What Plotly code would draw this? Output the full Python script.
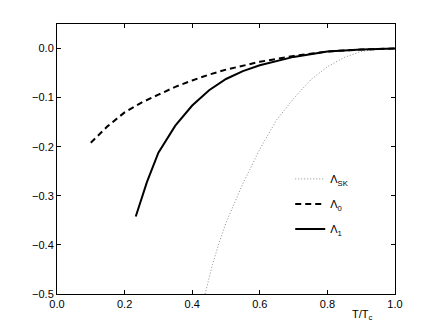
import plotly.graph_objects as go

# Λ_SK (dotted)
t_sk = [0.438, 0.46, 0.48, 0.50, 0.55, 0.60, 0.65, 0.70, 0.75, 0.80, 0.85, 0.90, 0.95, 1.00]
lam_sk = [-0.50, -0.44, -0.395, -0.355, -0.275, -0.205, -0.145, -0.102, -0.064, -0.037, -0.018, -0.006, -0.001, 0.0]

# Λ_0 (dashed)
t_0 = [0.10, 0.15, 0.20, 0.25, 0.30, 0.35, 0.40, 0.45, 0.50, 0.60, 0.70, 0.80, 0.90, 1.00]
lam_0 = [-0.192, -0.158, -0.130, -0.110, -0.094, -0.078, -0.065, -0.053, -0.043, -0.027, -0.015, -0.006, -0.002, 0.0]

# Λ_1 (solid)
t_1 = [0.233, 0.266, 0.30, 0.35, 0.40, 0.45, 0.50, 0.55, 0.60, 0.70, 0.80, 0.90, 1.00]
lam_1 = [-0.342, -0.272, -0.212, -0.157, -0.116, -0.085, -0.062, -0.046, -0.034, -0.017, -0.006, -0.002, 0.0]

x_ticks = [0.0, 0.2, 0.4, 0.6, 0.8, 1.0]
y_ticks = [0.0, -0.1, -0.2, -0.3, -0.4, -0.5]

font_family = "Liberation Sans, Arial, Helvetica, sans-serif"

fig = go.Figure()

fig.add_trace(go.Scatter(
    x=t_sk, y=lam_sk, mode="lines", name="Λ<sub>SK</sub>",
    line=dict(color="#8c8c8c", width=1, dash="1px,2px"),
    legendgroup="a",
))
fig.add_trace(go.Scatter(
    x=t_0, y=lam_0, mode="lines", name="Λ<sub>0</sub>",
    line=dict(color="black", width=2, dash="6px,4px"),
    legendgroup="b",
))
fig.add_trace(go.Scatter(
    x=t_1, y=lam_1, mode="lines", name="Λ<sub>1</sub>",
    line=dict(color="black", width=2),
    legendgroup="c",
))

axis_common = dict(
    showgrid=False, zeroline=False, showline=True, mirror="ticks",
    linecolor="black", linewidth=1, ticks="inside", ticklen=4,
    tickcolor="black", tickfont=dict(size=11, color="black", family=font_family),
)

fig.update_xaxes(range=[0, 1], tickvals=x_ticks,
                 ticktext=[f"{v:.1f}" for v in x_ticks], **axis_common)
fig.update_yaxes(range=[-0.5, 0.05], tickvals=y_ticks,
                 ticktext=[f"{v:.1f}".replace("-", "−") for v in y_ticks], **axis_common)

fig.add_annotation(
    text="T/T<sub>c</sub>", xref="paper", yref="paper", x=0.905, y=-0.045,
    xanchor="center", yanchor="top", showarrow=False,
    font=dict(size=11, color="black", family=font_family),
)

# the page body has an 8px margin, so the figure is drawn 8px smaller
fig.update_layout(
    width=420, height=315,
    margin=dict(l=49, r=33, t=16, b=29),
    paper_bgcolor="white", plot_bgcolor="white",
    font=dict(family=font_family, size=11, color="black"),
    legend=dict(
        x=0.69, y=0.48, xanchor="left", yanchor="top",
        bgcolor="rgba(0,0,0,0)", borderwidth=0,
        tracegroupgap=6, font=dict(size=11),
    ),
)

fig.write_html("out.html")
